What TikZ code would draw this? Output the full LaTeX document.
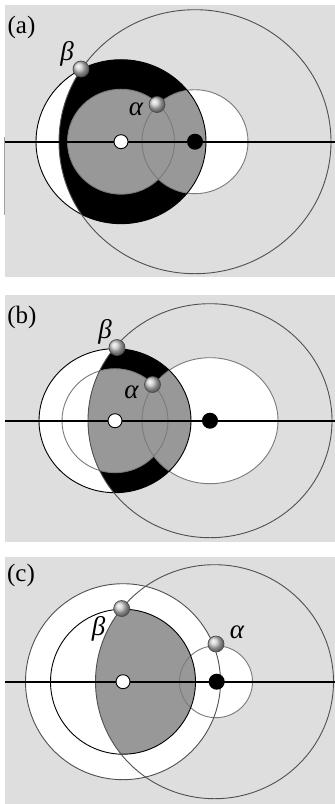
\documentclass[tikz,border=0pt]{standalone}
\usepackage{fontspec}
\setmainfont{Liberation Serif}
\newcommand{\plabfont}{\fontsize{25}{28}\selectfont}
\newcommand{\glabfont}{\fontsize{27}{30}\selectfont\itshape}
\definecolor{bggray}{HTML}{DEDEDE}
\definecolor{midgray}{HTML}{989898}
\definecolor{orbitdark}{HTML}{505050}
\definecolor{orbitlight}{HTML}{7A7A7A}
\tikzset{
  panelbg/.style={fill=bggray, draw=none},
  axisline/.style={line width=1.7pt, black},
  bigorbit/.style={draw=orbitdark, line width=0.9pt},
  thinorbit/.style={draw=orbitlight, line width=0.9pt},
  darkorbit/.style={draw=black, line width=0.9pt},
  wdot/.style={circle, draw=black, fill=white, line width=0.9pt, minimum size=14pt, inner sep=0pt},
  bdot/.style={circle, fill=black, minimum size=16pt, inner sep=0pt},
  planet/.style={circle, shading=ball, ball color=gray!40!white, draw=black!70, line width=0.7pt, minimum size=16pt, inner sep=0pt},
  plabel/.style={inner sep=0pt},
  glabel/.style={inner sep=0pt},
}
\begin{document}
\begin{tikzpicture}[x=1pt, y=-1pt]
\useasboundingbox (0,0) rectangle (335,804);
% ================= panel (a) =================
\fill[panelbg] (5,5) rectangle (335,277);
\draw[gray!75, line width=0.8pt] (4,137) -- (4,215);
\fill[white] (121,141.7) ellipse [x radius=85pt, y radius=82pt];
\fill[white] (195,141.7) ellipse [x radius=53pt, y radius=52pt];
\begin{scope}
  \clip (121,141.7) ellipse [x radius=85pt, y radius=82pt];
  \clip (195,141.7) ellipse [x radius=136pt, y radius=132pt];
  \fill[black] (121,141.7) ellipse [x radius=85pt, y radius=82pt];
  \fill[midgray] (121,141.7) ellipse [x radius=53.5pt, y radius=52.5pt];
  \fill[midgray] (195,141.7) ellipse [x radius=53pt, y radius=52pt];
\end{scope}
\draw[thinorbit] (121,141.7) ellipse [x radius=53.5pt, y radius=52.5pt];
\draw[thinorbit] (195,141.7) ellipse [x radius=53pt, y radius=52pt];
\draw[darkorbit] (121,141.7) ellipse [x radius=85pt, y radius=82pt];
\draw[bigorbit] (195,141.7) ellipse [x radius=136pt, y radius=132pt];
\coordinate (aL) at (5,141.7);
\coordinate (aR) at (335,141.7);
\draw[axisline] (aL) -- (aR);
\node[wdot] (aW) at (121,141.7) {};
\node[bdot] (aB) at (195,141.7) {};
\node[planet] (aBeta) at (81,69) {};
\node[planet] (aAlpha) at (157,104.5) {};
\node[plabel] (aLab) at (21.5,27) {\plabfont (a)};
\node[glabel] (aBetaLab) at (67,54) {\glabfont β};
\node[glabel] (aAlphaLab) at (136,109) {\glabfont α};
% ================= panel (b) =================
\fill[panelbg] (5,295) rectangle (335,542);
\fill[white] (115,420.7) ellipse [x radius=76pt, y radius=72pt];
\fill[white] (210,420.7) ellipse [x radius=68pt, y radius=63pt];
\begin{scope}
  \clip (115,420.7) ellipse [x radius=76pt, y radius=72pt];
  \clip (210,420.7) ellipse [x radius=122pt, y radius=117pt];
  \fill[black] (115,420.7) ellipse [x radius=76pt, y radius=72pt];
  \fill[midgray] (115,420.7) ellipse [x radius=53pt, y radius=52pt];
  \fill[midgray] (210,420.7) ellipse [x radius=68pt, y radius=63pt];
\end{scope}
\draw[thinorbit] (115,420.7) ellipse [x radius=53pt, y radius=52pt];
\draw[thinorbit] (210,420.7) ellipse [x radius=68pt, y radius=63pt];
\draw[darkorbit] (115,420.7) ellipse [x radius=76pt, y radius=72pt];
\draw[bigorbit] (210,420.7) ellipse [x radius=122pt, y radius=117pt];
\coordinate (bL) at (5,420.7);
\coordinate (bR) at (335,420.7);
\draw[axisline] (bL) -- (bR);
\node[wdot] (bW) at (115,420.7) {};
\node[bdot] (bB) at (210,420.7) {};
\node[planet] (bBeta) at (117,347.5) {};
\node[planet] (bAlpha) at (152.5,384.5) {};
\node[plabel] (bLab) at (22,317) {\plabfont (b)};
\node[glabel] (bBetaLab) at (105,332) {\glabfont β};
\node[glabel] (bAlphaLab) at (131.5,392) {\glabfont α};
% ================= panel (c) =================
\fill[panelbg] (5,557) rectangle (335,804);
\fill[white] (123,681.7) ellipse [x radius=97.5pt, y radius=98pt];
\fill[white] (216,681.7) ellipse [x radius=36.5pt, y radius=36pt];
\begin{scope}
  \clip (214.5,681.7) ellipse [x radius=119pt, y radius=117pt];
  \fill[midgray] (123,681.7) ellipse [x radius=72.5pt, y radius=72.5pt];
\end{scope}
\draw[thinorbit] (216,681.7) ellipse [x radius=36.5pt, y radius=36pt];
\draw[bigorbit] (123,681.7) ellipse [x radius=97.5pt, y radius=98pt];
\draw[darkorbit] (123,681.7) ellipse [x radius=72.5pt, y radius=72.5pt];
\draw[bigorbit] (214.5,681.7) ellipse [x radius=119pt, y radius=117pt];
\coordinate (cL) at (5,681.7);
\coordinate (cR) at (335,681.7);
\draw[axisline] (cL) -- (cR);
\node[wdot] (cW) at (123,681.7) {};
\node[bdot] (cB) at (216.7,681.7) {};
\node[planet] (cBeta) at (121.7,608.5) {};
\node[planet] (cAlpha) at (216,644) {};
\node[plabel] (cLab) at (21,575) {\plabfont (c)};
\node[glabel] (cBetaLab) at (98.5,629) {\glabfont β};
\node[glabel] (cAlphaLab) at (237,632) {\glabfont α};
\end{tikzpicture}
\end{document}
